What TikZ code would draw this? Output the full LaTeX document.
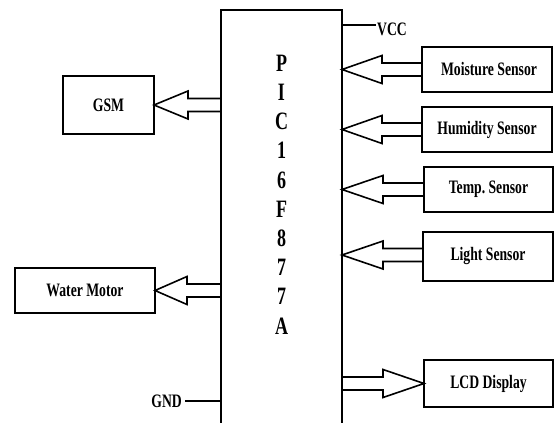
\documentclass[tikz,border=0pt]{standalone}
\usepackage{fontspec}
\newfontfamily\labfont[FakeStretch=0.72]{Liberation Serif}
\newfontfamily\chipfont[FakeStretch=0.72]{Liberation Serif}
\usetikzlibrary{calc}
\newcommand\hollowarr[3]{%
  \draw[hol] ([yshift=-6.5pt]#1) -- ([xshift=#3,yshift=-6.5pt]#2) -- ([xshift=#3,yshift=-14pt]#2) -- (#2)
    -- ([xshift=#3,yshift=14pt]#2) -- ([xshift=#3,yshift=6.5pt]#2) -- ([yshift=6.5pt]#1);}
\begin{document}
\begin{tikzpicture}[x=1pt,y=-1pt,
  box/.style={draw,line width=2.2pt,outer sep=0pt,inner sep=0pt,font=\labfont\bfseries\fontsize{19}{22}\selectfont},
  hol/.style={line width=1.6pt,line join=miter},
  lbl/.style={font=\labfont\bfseries\fontsize{19}{22}\selectfont,inner sep=0pt}]
\useasboundingbox (0,0) rectangle (555,423);
\fill[white] (0,0) rectangle (555,423);
% chip
\node[box,minimum width=121pt,minimum height=430pt] (chip) at (281.5,225) {};
\node[font=\chipfont\bfseries\fontsize{25}{29.2}\selectfont,align=center,inner sep=0pt] (chiptext) at (281.5,194.5)
  {P\\I\\C\\1\\6\\F\\8\\7\\7\\A};
% sensors
\node[box,minimum width=130pt,minimum height=45pt] (moist) at (487,69.5) {\hspace{4pt}Moisture Sensor};
\node[box,minimum width=130pt,minimum height=45pt] (humid) at (487,129.5) {Humidity Sensor};
\node[box,minimum width=129pt,minimum height=45pt] (temp) at (488.5,189.5) {Temp.\ Sensor};
\node[box,minimum width=130pt,minimum height=49pt] (light) at (488,256.5) {\raisebox{-3pt}{Light Sensor}};
\node[box,minimum width=129pt,minimum height=47pt] (lcd) at (488.5,383.5) {LCD Display};
\node[box,minimum width=91pt,minimum height=58pt] (gsm) at (108.5,105) {\raisebox{-2pt}{GSM}};
\node[box,minimum width=140pt,minimum height=45pt] (motor) at (85,290.5) {Water Motor};
% arrows
\coordinate (t1) at (chip.east |- moist.west);
\coordinate (t2) at (chip.east |- humid.west);
\coordinate (t3) at (chip.east |- temp.west);
\coordinate (l4) at ([yshift=1.5pt]light.west);
\coordinate (t4) at (chip.east |- l4);
\hollowarr{moist.west}{t1}{40pt}
\hollowarr{humid.west}{t2}{40pt}
\hollowarr{temp.west}{t3}{41pt}
\hollowarr{l4}{t4}{41pt}
\coordinate (s5) at (chip.east |- lcd.west);
\hollowarr{s5}{lcd.west}{-41pt}
\coordinate (s6) at (chip.west |- gsm.east);
\hollowarr{s6}{gsm.east}{34pt}
\coordinate (s7) at (chip.west |- motor.east);
\hollowarr{s7}{motor.east}{32pt}
% power
\node[lbl,anchor=west] (vcc) at (377,29) {VCC};
\draw[line width=2pt] ([yshift=4pt]vcc.west -| chip.east) -- ([yshift=4pt,xshift=-1pt]vcc.west);
\node[lbl,anchor=east] (gnd) at (182,401) {GND};
\draw[line width=2.4pt] ([xshift=3pt]gnd.east) -- (gnd.east -| chip.west);
\end{tikzpicture}
\end{document}
